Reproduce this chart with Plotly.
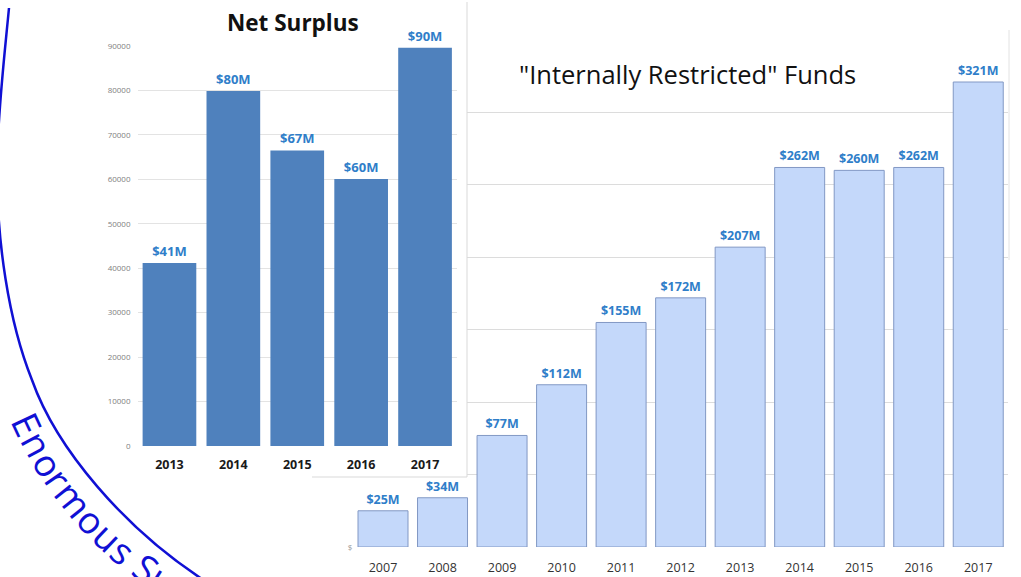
import math
import plotly.graph_objects as go

W, H = 1021, 577

# ---------------- data ----------------
funds_years = ["2007", "2008", "2009", "2010", "2011", "2012", "2013", "2014", "2015", "2016", "2017"]
funds_values = [25, 34, 77, 112, 155, 172, 207, 262, 260, 262, 321]          # $ millions
funds_labels = ["$25M", "$34M", "$77M", "$112M", "$155M", "$172M", "$207M", "$262M", "$260M", "$262M", "$321M"]

surplus_years = ["2013", "2014", "2015", "2016", "2017"]
surplus_values = [41200, 79900, 66500, 60100, 89600]                          # $ thousands
surplus_labels = ["$41M", "$80M", "$67M", "$60M", "$90M"]

funds_ticks = [0, 50, 100, 150, 200, 250, 300, 350]
funds_ticktext = ["$", "", "", "", "", "", "", ""]

FONT = "Open Sans"
LABEL_BLUE = "#2F7EC9"
ARC_BLUE = "#1010D4"


def px(x, y):
    return x / W, 1 - y / H


fig = go.Figure()

# right chart: "Internally Restricted" Funds (drawn first, sits behind)
fig.add_trace(go.Bar(
    x=funds_years, y=funds_values, text=funds_labels,
    textposition="outside", cliponaxis=False,
    textfont=dict(family=FONT, size=12.5, color=LABEL_BLUE, weight="bold"),
    marker=dict(color="#C4D8FA", line=dict(color="#8298C4", width=1)),
    xaxis="x", yaxis="y", showlegend=False, hoverinfo="skip",
))

# cover panel (white box of the overlaid Net Surplus picture)
fig.add_trace(go.Scatter(x=[None], y=[None], xaxis="x2", yaxis="y2",
                         showlegend=False, hoverinfo="skip"))

# left chart: Net Surplus
fig.add_trace(go.Bar(
    x=surplus_years, y=surplus_values, text=surplus_labels,
    textposition="outside", cliponaxis=False,
    textfont=dict(family=FONT, size=13, color=LABEL_BLUE, weight="bold"),
    marker=dict(color="#4F81BD", line=dict(width=0)),
    xaxis="x3", yaxis="y3", showlegend=False, hoverinfo="skip",
))

x1l, _ = px(353.25, 0)
x1r, _ = px(1008, 0)
_, y1b = px(0, 547)
_, y1t = px(0, 40)

x3l, _ = px(137.5, 0)
x3r, _ = px(457, 0)
_, y3b = px(0, 446)
_, y3t = px(0, 46)

cx_r, _ = px(467, 0)
_, cy_b = px(0, 477)

fig.update_layout(
    width=W, height=H, autosize=False,
    margin=dict(l=0, r=0, t=0, b=0, pad=0),
    template="none",
    paper_bgcolor="white", plot_bgcolor="white",
    bargap=0.16,
    font=dict(family=FONT),
    xaxis=dict(domain=[x1l, x1r], anchor="y", type="category",
               showgrid=False, showline=False, ticks="",
               tickfont=dict(family=FONT, size=12.5, color="#333333"),
               ticklabelstandoff=11),
    yaxis=dict(domain=[y1b, y1t], anchor="x", range=[0, 350],
               tickvals=funds_ticks, ticktext=funds_ticktext,
               showgrid=True, gridcolor="#DCDCDC", gridwidth=1,
               zeroline=False, showline=False, ticks="",
               tickfont=dict(family=FONT, size=8, color="#999999")),
    xaxis2=dict(domain=[0, cx_r], anchor="y2", range=[0, 1], visible=False),
    yaxis2=dict(domain=[cy_b, 1], anchor="x2", range=[0, 1], visible=False),
    xaxis3=dict(domain=[x3l, x3r], anchor="y3", type="category",
                showgrid=False, showline=False, ticks="",
                tickfont=dict(family=FONT, size=12.5, color="#1A1A1A", weight="bold"),
                ticklabelstandoff=9),
    yaxis3=dict(domain=[y3b, y3t], anchor="x3", range=[0, 90000], dtick=10000,
                tickformat="d",
                showgrid=True, gridcolor="#E3E3E3", gridwidth=1,
                zeroline=False, showline=False, ticks="",
                tickfont=dict(family=FONT, size=8, color="#808080"),
                ticklabelstandoff=6),
)

# titles
tx, ty = px(292.5, 22)
fig.add_annotation(x=tx, y=ty, xref="paper", yref="paper", showarrow=False,
                   text="Net Surplus", xanchor="center", yanchor="middle",
                   font=dict(family=FONT, size=22.5, color="#111111", weight="bold"))
tx, ty = px(687, 74)
fig.add_annotation(x=tx, y=ty, xref="paper", yref="paper", showarrow=False,
                   text='"Internally Restricted" Funds', xanchor="center", yanchor="middle",
                   font=dict(family=FONT, size=25.5, color="#111111"))

# border of the overlaid picture (right and bottom edges)
ax, ay = px(467, 2)
bx, by = px(467, 477)
fig.add_shape(type="line", xref="paper", yref="paper", x0=ax, y0=ay, x1=bx, y1=by,
              line=dict(color="#D9D9D9", width=1), layer="above")
ax, ay = px(312, 477)
fig.add_shape(type="line", xref="paper", yref="paper", x0=ax, y0=ay, x1=bx, y1=by,
              line=dict(color="#D9D9D9", width=1), layer="above")
# right edge of the funds picture
ax, ay = px(1009, 30)
bx, by = px(1009, 260)
fig.add_shape(type="line", xref="paper", yref="paper", x0=ax, y0=ay, x1=bx, y1=by,
              line=dict(color="#E2E2E2", width=1), layer="above")


# decorative arc
def pp(x, y):
    a, b = px(x, y)
    return f"{a:.5f},{b:.5f}"


arc = (f"M {pp(9, 8)} C {pp(4, 60)} {pp(-3, 120)} {pp(-3, 170)} "
       f"C {pp(-3, 240)} {pp(8, 320)} {pp(32, 380)} "
       f"C {pp(55, 445)} {pp(122, 530)} {pp(216, 588)}")
fig.add_shape(type="path", xref="paper", yref="paper", path=arc,
              line=dict(color=ARC_BLUE, width=2.5), layer="above")

# curved text "Enormous Surplus" along the arc
word = "Enormous Surplus"
em = {"E": 0.55, "n": 0.62, "o": 0.60, "r": 0.41, "m": 0.94, "u": 0.62, "s": 0.48,
      " ": 0.26, "S": 0.55, "p": 0.61, "l": 0.27}
fs = 37
ccx, ccy, R = 363.0, 268.0, 370.0
theta = 155.0
prev_half = None
for ch in word:
    w = em[ch] * fs
    if prev_half is not None:
        theta -= math.degrees((prev_half + w / 2) / R)
    prev_half = w / 2
    if ch == " ":
        continue
    lx = ccx + R * math.cos(math.radians(theta))
    ly = ccy + R * math.sin(math.radians(theta))
    if ly > H + 40:
        continue
    a, b = px(lx, ly)
    fig.add_annotation(x=a, y=b, xref="paper", yref="paper", showarrow=False,
                       text=ch, textangle=theta - 90, xanchor="center", yanchor="middle",
                       font=dict(family=FONT, size=fs, color=ARC_BLUE))

fig.write_html(
    "out.html",
    config={"displayModeBar": False},
    post_script="document.body.style.margin='0px';document.body.style.overflow='hidden';",
)
